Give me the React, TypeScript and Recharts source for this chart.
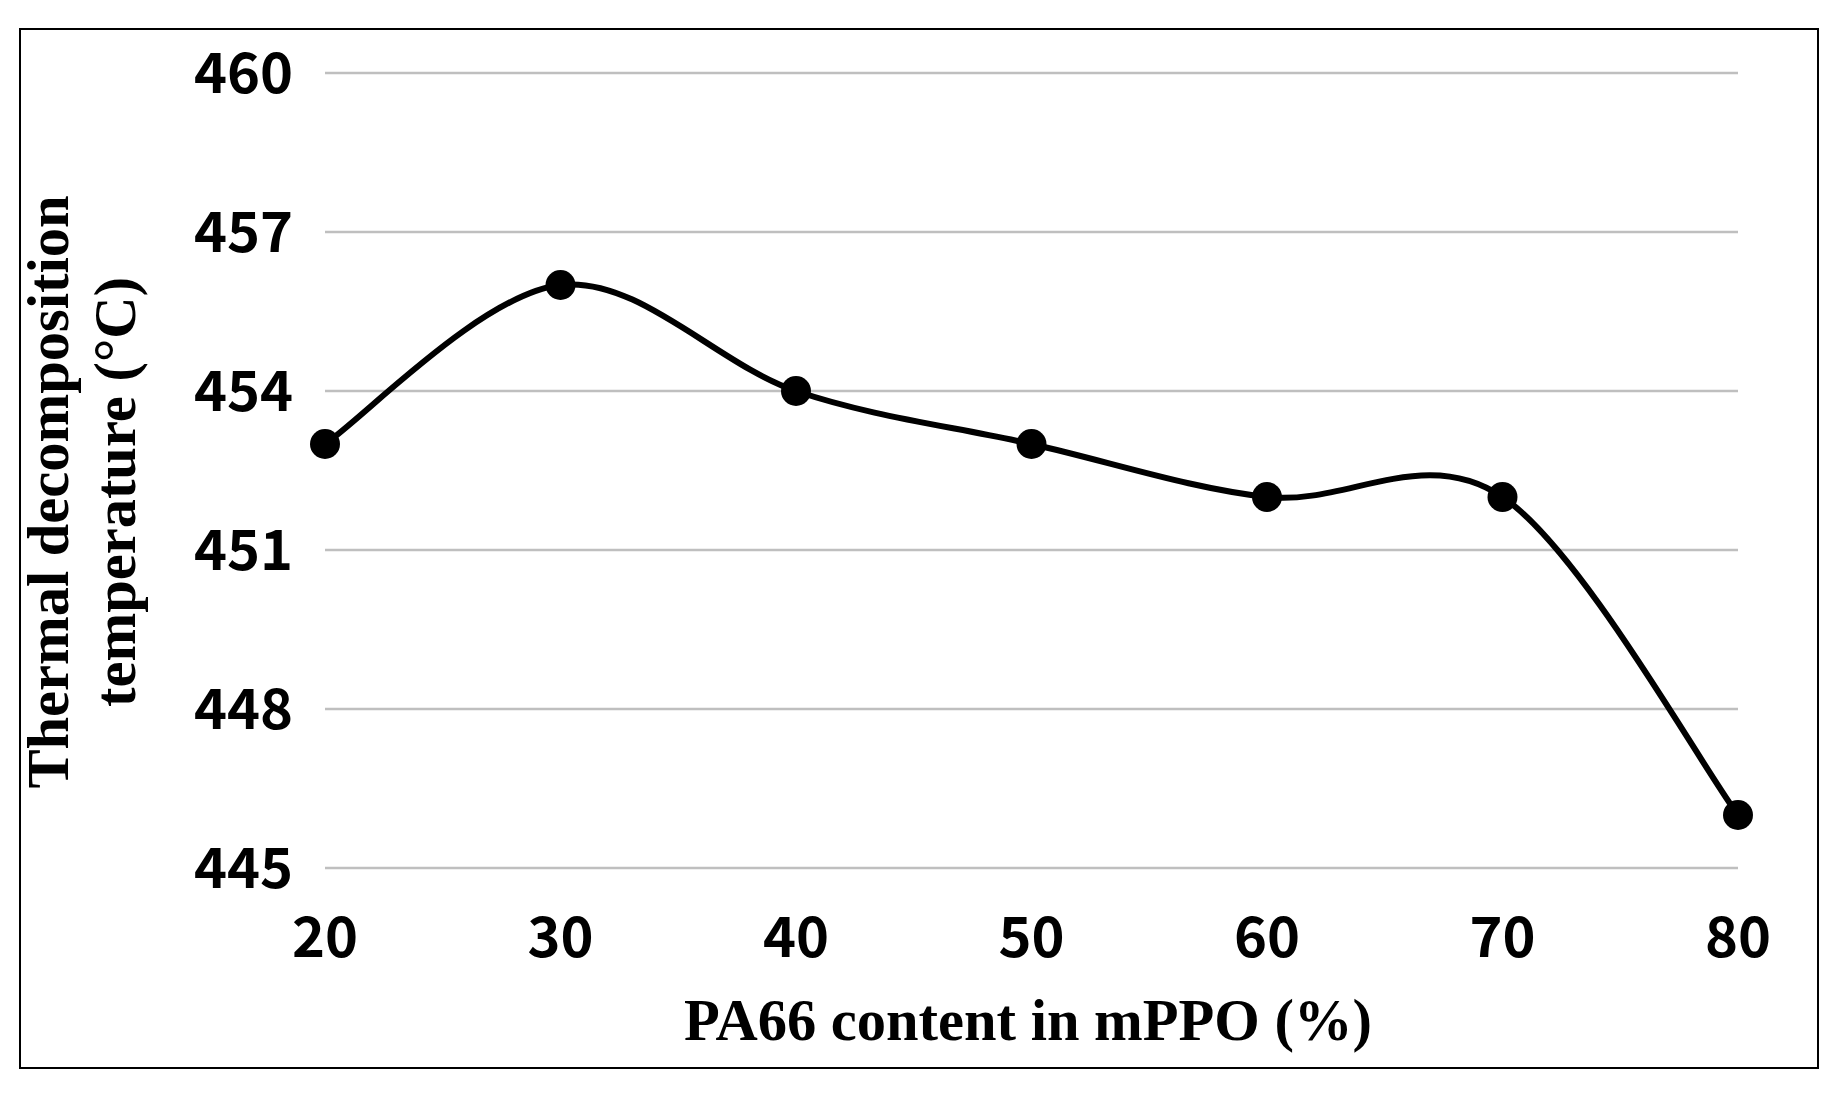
import React from "react";
import { LineChart, Line, XAxis, YAxis, CartesianGrid } from "recharts";

const pa66Content = [20, 30, 40, 50, 60, 70, 80];
const decompositionTemp = [453, 456, 454, 453, 452, 452, 446];
const xTicks = [20, 30, 40, 50, 60, 70, 80];
const yTicks = [445, 448, 451, 454, 457, 460];
const xTitle = "PA66 content in mPPO (%)";
const yTitleLine1 = "Thermal decomposition";
const yTitleLine2 = "temperature (\u00B0C)";

const data = pa66Content.map((x, i) => ({ x, y: decompositionTemp[i] }));

// Excel-like smoothed line (Catmull-Rom through every point)
const smoothCurve: any = (context: any) => {
  let pts: number[][] = [];
  return {
    areaStart() {},
    areaEnd() {},
    lineStart() {
      pts = [];
    },
    point(x: number, y: number) {
      pts.push([+x, +y]);
    },
    lineEnd() {
      if (!pts.length) return;
      context.moveTo(pts[0][0], pts[0][1]);
      for (let i = 0; i < pts.length - 1; i++) {
        const p0 = pts[i - 1] || pts[i];
        const p1 = pts[i];
        const p2 = pts[i + 1];
        const p3 = pts[i + 2] || pts[i + 1];
        const c1x = p1[0] + (p2[0] - p0[0]) / 6;
        const c1y = p1[1] + (p2[1] - p0[1]) / 6;
        const c2x = p2[0] - (p3[0] - p1[0]) / 6;
        const c2y = p2[1] - (p3[1] - p1[1]) / 6;
        context.bezierCurveTo(c1x, c1y, c2x, c2y, p2[0], p2[1]);
      }
    },
  };
};

const tickFont = {
  fontFamily: "'Noto Sans CJK KR', 'Noto Sans', sans-serif",
  fontWeight: 700,
  fontSize: 56,
  fill: "#000",
};

const titleStyle: React.CSSProperties = {
  fontFamily: "'Liberation Serif', 'Times New Roman', serif",
  fontWeight: 700,
  fontSize: 58.5,
};

const YTitle = () => (
  <g>
    <text
      x={68}
      y={492}
      transform="rotate(-90 68 492)"
      textAnchor="middle"
      fill="#000"
      style={titleStyle}
    >
      {yTitleLine1}
    </text>
    <text
      x={135}
      y={492}
      transform="rotate(-90 135 492)"
      textAnchor="middle"
      fill="#000"
      style={titleStyle}
    >
      {yTitleLine2}
    </text>
  </g>
);

const XTitle = () => (
  <text x={1028} y={1040} textAnchor="middle" fill="#000" style={titleStyle}>
    {xTitle}
  </text>
);

export default function App() {
  return (
    <div
      style={{
        position: "absolute",
        left: 0,
        top: 0,
        width: 1840,
        height: 1096,
        background: "#fff",
      }}
    >
      <LineChart
        width={1840}
        height={1096}
        data={data}
        margin={{ top: 73, right: 102, bottom: 88, left: 0 }}
      >
        <CartesianGrid
          vertical={false}
          stroke="#bfbfbf"
          strokeWidth={2.5}
        />
        <XAxis
          dataKey="x"
          type="number"
          domain={[20, 80]}
          ticks={xTicks}
          axisLine={false}
          tickLine={false}
          tickSize={0}
          tickMargin={49}
          height={140}
          tick={tickFont}
          interval={0}
          label={{ content: () => <XTitle /> }}
        />
        <YAxis
          type="number"
          domain={[445, 460]}
          ticks={yTicks}
          axisLine={false}
          tickLine={false}
          tickSize={0}
          tickMargin={32}
          width={325}
          tick={tickFont}
          interval={0}
          label={{ content: () => <YTitle /> }}
        />
        <Line
          dataKey="y"
          type={smoothCurve}
          stroke="#000"
          strokeWidth={6}
          dot={{ r: 15, fill: "#000", stroke: "#000", strokeWidth: 0 }}
          activeDot={false}
          isAnimationActive={false}
        />
      </LineChart>
      <div
        style={{
          position: "absolute",
          left: 19,
          top: 28,
          width: 1800,
          height: 1041,
          border: "2px solid #000",
          boxSizing: "border-box",
          pointerEvents: "none",
        }}
      />
    </div>
  );
}
